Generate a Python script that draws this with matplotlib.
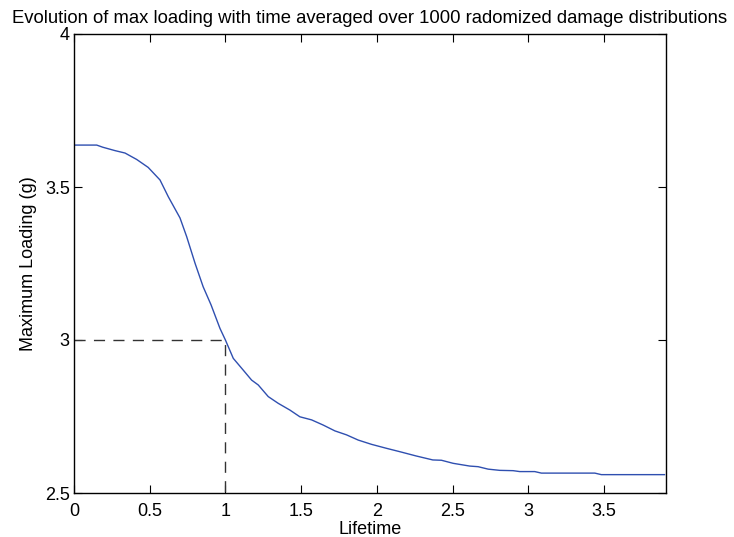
import matplotlib
matplotlib.use("Agg")
import matplotlib.pyplot as plt

# Data
lifetime = [0.0, 0.15, 0.19, 0.27, 0.337, 0.414, 0.49, 0.568, 0.623, 0.70, 0.744, 0.80,
            0.853, 0.905, 0.964, 1.0, 1.052, 1.117, 1.173, 1.217, 1.283, 1.349, 1.426,
            1.492, 1.569, 1.646, 1.723, 1.80, 1.877, 1.965, 2.064, 2.152, 2.26, 2.37,
            2.427, 2.504, 2.614, 2.669, 2.735, 2.812, 2.90, 2.944, 3.043, 3.087, 3.44,
            3.483, 3.90]
max_loading = [3.637, 3.637, 3.630, 3.619, 3.611, 3.590, 3.564, 3.523, 3.468, 3.399,
               3.338, 3.250, 3.174, 3.115, 3.038, 3.0, 2.940, 2.902, 2.869, 2.853,
               2.815, 2.793, 2.771, 2.749, 2.739, 2.722, 2.703, 2.690, 2.673, 2.659,
               2.646, 2.635, 2.621, 2.608, 2.607, 2.597, 2.588, 2.586, 2.578, 2.574,
               2.573, 2.570, 2.570, 2.565, 2.565, 2.560, 2.560]
ref_x = [0.0, 1.0, 1.0]
ref_y = [3.0, 3.0, 2.5]
xticks = [0, 0.5, 1, 1.5, 2, 2.5, 3, 3.5]
xticklabels = ["0", "0.5", "1", "1.5", "2", "2.5", "3", "3.5"]
yticks = [2.5, 3, 3.5, 4]
yticklabels = ["2.5", "3", "3.5", "4"]

plt.rcParams['font.family'] = ['Liberation Sans', 'DejaVu Sans']

fig = plt.figure(figsize=(7.34, 5.37), dpi=100)
ax = fig.add_axes([74/734, 1 - 493/537, (666-74)/734, (493-34)/537])

ax.plot(lifetime, max_loading, color='#2f4fb0', lw=1.0)
ax.plot(ref_x, ref_y, color='#333333', lw=1.0, linestyle=(0, (8, 6)))

ax.set_xlim(0, 3.91)
ax.set_ylim(2.5, 4)
ax.set_xticks(xticks)
ax.set_xticklabels(xticklabels)
ax.set_yticks(yticks)
ax.set_yticklabels(yticklabels)
ax.tick_params(direction='in', top=True, right=True, length=6, width=0.8,
               labelsize=13)
ax.tick_params(axis='x', pad=7)
ax.tick_params(axis='y', pad=3)
for s in ax.spines.values():
    s.set_linewidth(1.0)

ax.set_xlabel("Lifetime", fontsize=13, labelpad=1)
ax.set_ylabel("Maximum Loading (g)", fontsize=13, labelpad=6)
ax.set_title("Evolution of max loading with time averaged over 1000 radomized damage distributions",
             fontsize=13.3, pad=8)

fig.savefig("out.png", dpi=100)
